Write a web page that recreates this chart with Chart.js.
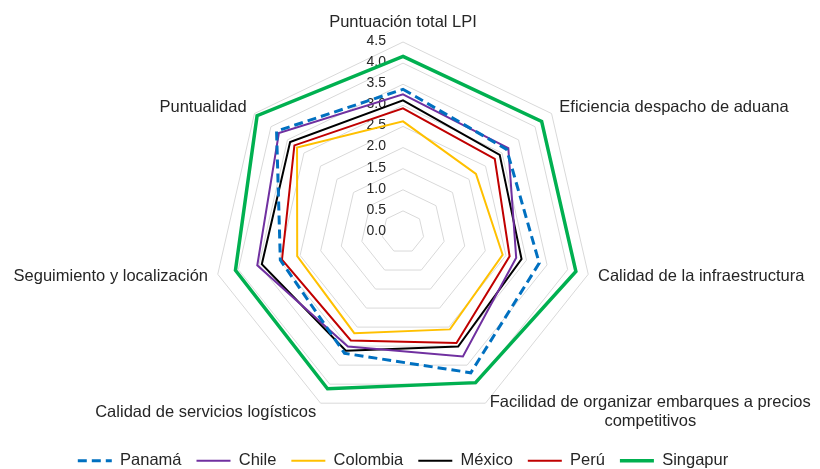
<!DOCTYPE html>
<html lang="es">
<head>
<meta charset="utf-8">
<title>Desempeño logístico (LPI)</title>
<script src="https://cdn.jsdelivr.net/npm/chart.js@4.4.1/dist/chart.umd.min.js"></script>
<style>
  html, body { margin: 0; padding: 0; background: #fff; }
  #chart { display: block; }
</style>
</head>
<body>
<canvas id="chart" width="820" height="469"></canvas>
<script>
// Categories (axes) of the radar
const categories = [
  'Puntuación total LPI',
  'Eficiencia despacho de aduana',
  'Calidad de la infraestructura',
  ['Facilidad de organizar embarques a precios', 'competitivos'],
  'Calidad de servicios logísticos',
  'Seguimiento y localización',
  'Puntualidad'
];

// Scale
const scaleMin = 0;
const scaleMax = 4.5;
const scaleStep = 0.5;

// Series values, same order as categories
const panama   = [3.38, 3.14, 3.31, 3.70, 3.19, 2.98, 3.83];
const chile    = [3.26, 3.19, 2.75, 3.27, 3.01, 3.54, 3.76];
const colombia = [2.62, 2.21, 2.42, 2.56, 2.66, 2.57, 3.21];
const mexico   = [3.12, 2.93, 2.88, 3.01, 3.12, 3.43, 3.42];
const peru     = [2.93, 2.78, 2.59, 2.92, 2.85, 2.94, 3.29];
const singapur = [4.16, 4.20, 4.20, 3.96, 4.12, 4.07, 4.42];

const FONT = "'Liberation Sans', Arial, sans-serif";
const TEXT = '#262626';

// Tick labels sit left of the vertical axis and the category labels
// hug the outer ring, the way the original (Excel) chart has them
const radarLabels = {
  id: 'radarLabels',
  beforeDatasetsDraw(chart) {
    const scale = chart.scales.r;
    const ctx = chart.ctx;
    ctx.save();
    ctx.fillStyle = TEXT;

    ctx.font = '14px ' + FONT;
    ctx.textAlign = 'right';
    ctx.textBaseline = 'middle';
    scale.ticks.forEach(t => {
      const y = scale.yCenter - scale.getDistanceFromCenterForValue(t.value);
      ctx.fillText(t.value.toFixed(1), scale.xCenter - 17, y - 1);
    });

    ctx.font = '16.5px ' + FONT;
    ctx.textAlign = 'center';
    const lineHeight = 19;
    categories.forEach((label, i) => {
      const lines = [].concat(label);
      const pos = scale.getPointPosition(i, scale.drawingArea + 10);
      const w = Math.max(...lines.map(l => ctx.measureText(l).width));
      let left;
      if (Math.abs(pos.x - scale.xCenter) < 1) left = pos.x - w / 2;
      else if (pos.x > scale.xCenter) left = pos.x;
      else left = pos.x - w;
      let top = pos.y - lines.length * lineHeight / 2;
      if (i === 0) top -= 10;
      lines.forEach((l, k) => {
        ctx.fillText(l, left + w / 2, top + lineHeight * k + lineHeight / 2);
      });
    });
    ctx.restore();
  }
};

function series(label, data, color, width, dash) {
  return {
    label: label,
    data: data,
    borderColor: color,
    backgroundColor: color,
    borderWidth: width,
    borderDash: dash || [],
    fill: false,
    tension: 0,
    pointRadius: 0,
    pointHoverRadius: 0
  };
}

new Chart(document.getElementById('chart'), {
  type: 'radar',
  data: {
    labels: categories,
    datasets: [
      series('Panamá', panama, '#0070C0', 3, [9, 5]),
      series('Chile', chile, '#7030A0', 2),
      series('Colombia', colombia, '#FFC000', 2),
      series('México', mexico, '#000000', 2),
      series('Perú', peru, '#C00000', 2),
      series('Singapur', singapur, '#00B050', 3.5)
    ]
  },
  options: {
    responsive: false,
    animation: false,
    layout: {
      padding: { top: 0, left: 0, right: 14, bottom: -10 }
    },
    scales: {
      r: {
        min: scaleMin,
        max: scaleMax,
        ticks: { stepSize: scaleStep, display: false },
        pointLabels: { display: false },
        angleLines: { display: false },
        grid: { color: '#D9D9D9', lineWidth: 1 },
        afterFit: function(scale) {
          scale.xCenter = 403;
          scale.yCenter = 232;
          scale.drawingArea = 190;
        }
      }
    },
    plugins: {
      legend: {
        position: 'bottom',
        labels: {
          usePointStyle: true,
          pointStyle: 'line',
          pointStyleWidth: 34,
          padding: 15,
          color: TEXT,
          font: { family: FONT, size: 16.5 },
          // take the line look (dash, width) from the dataset, not the point
          generateLabels: function(chart) {
            const items = Chart.defaults.plugins.legend.labels.generateLabels(chart);
            items.forEach(item => {
              const ds = chart.data.datasets[item.datasetIndex];
              item.lineDash = ds.borderDash;
              item.lineWidth = ds.borderWidth;
              item.strokeStyle = ds.borderColor;
            });
            return items;
          }
        }
      },
      tooltip: { enabled: false }
    }
  },
  plugins: [radarLabels]
});
</script>
</body>
</html>
